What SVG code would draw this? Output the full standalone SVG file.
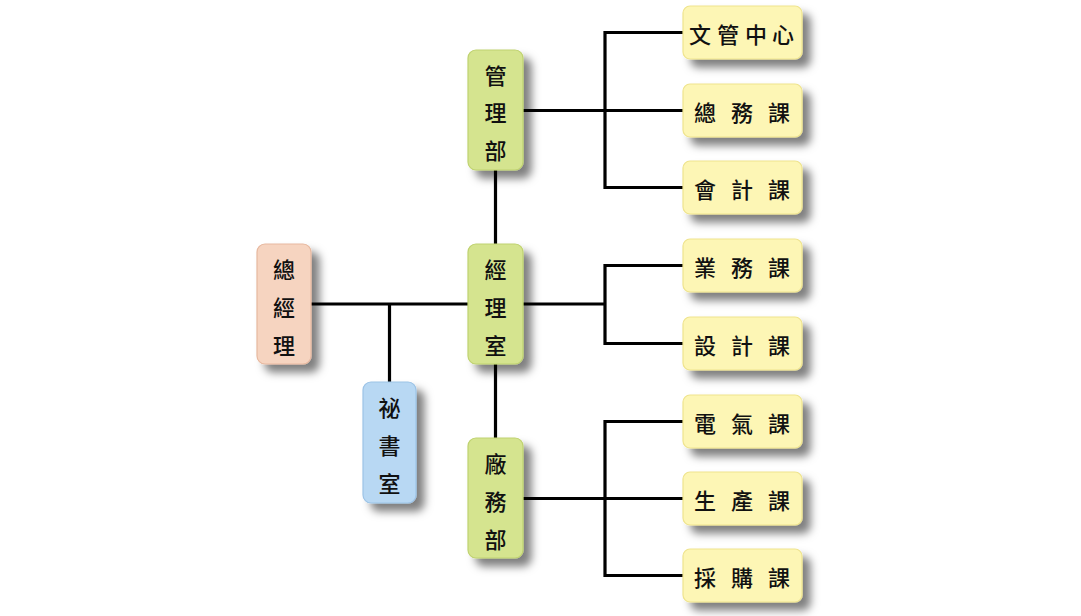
<svg xmlns="http://www.w3.org/2000/svg" width="1081" height="616" viewBox="0 0 1081 616">
<defs>
<filter id="sh" x="-30%" y="-30%" width="170%" height="170%">
<feDropShadow dx="8" dy="8" stdDeviation="4" flood-color="#000" flood-opacity="0.5"/>
</filter>
<style>
.box{filter:url(#sh);stroke-width:1.2}
.peach{fill:#f6d4c0;stroke:#e7b89f}
.green{fill:#d5e48f;stroke:#bfd270}
.blue{fill:#b8d8f3;stroke:#9cc3e6}
.yellow{fill:#fdf6b5;stroke:#efe48e}
text{font-family:"Noto Sans CJK TC","Noto Sans CJK SC",sans-serif;font-size:22px;font-weight:500;fill:#111;text-anchor:middle;dominant-baseline:central}
.conn{stroke:#000;stroke-width:3.2;fill:none}
</style>
</defs>
<rect width="1081" height="616" fill="#fff"/>
<g id="connectors">
<line class="conn" x1="311" y1="304" x2="468" y2="304"/>
<line class="conn" x1="389.5" y1="304" x2="389.5" y2="382"/>
<line class="conn" x1="495.5" y1="170" x2="495.5" y2="244"/>
<line class="conn" x1="495.5" y1="364" x2="495.5" y2="438"/>
<line class="conn" x1="523" y1="110.5" x2="605" y2="110.5"/>
<polyline class="conn" points="683,32.5 605,32.5 605,187.5 683,187.5"/>
<line class="conn" x1="605" y1="110.5" x2="683" y2="110.5"/>
<line class="conn" x1="523" y1="304" x2="605" y2="304"/>
<polyline class="conn" points="683,265.5 605,265.5 605,343.5 683,343.5"/>
<line class="conn" x1="523" y1="498.5" x2="605" y2="498.5"/>
<polyline class="conn" points="683,421.5 605,421.5 605,575.5 683,575.5"/>
<line class="conn" x1="605" y1="498.5" x2="683" y2="498.5"/>
</g>
<g id="n-zongjingli">
<rect class="box peach" x="257" y="244" width="54" height="120" rx="8"/>
<text x="284" y="268">總</text><text x="284" y="306">經</text><text x="284" y="344">理</text>
</g>
<g id="n-mishushi">
<rect class="box blue" x="363" y="382" width="53" height="121" rx="8"/>
<text x="389.5" y="406">祕</text><text x="389.5" y="444">書</text><text x="389.5" y="482">室</text>
</g>
<g id="n-guanlibu">
<rect class="box green" x="468" y="50" width="55" height="120" rx="8"/>
<text x="495.5" y="74">管</text><text x="495.5" y="111">理</text><text x="495.5" y="149">部</text>
</g>
<g id="n-jinglishi">
<rect class="box green" x="468" y="244" width="55" height="120" rx="8"/>
<text x="495.5" y="268">經</text><text x="495.5" y="306">理</text><text x="495.5" y="344">室</text>
</g>
<g id="n-changwubu">
<rect class="box green" x="468" y="438" width="55" height="120" rx="8"/>
<text x="495.5" y="462">廠</text><text x="495.5" y="500">務</text><text x="495.5" y="538">部</text>
</g>
<g id="n-wenguan">
<rect class="box yellow" x="683" y="6" width="119" height="53" rx="7"/>
<text x="700" y="33">文</text><text x="728" y="33">管</text><text x="756" y="33">中</text><text x="783" y="33">心</text>
</g>
<g id="n-zongwu">
<rect class="box yellow" x="683" y="84" width="119" height="53" rx="7"/>
<text x="705" y="111">總</text><text x="742" y="111">務</text><text x="779" y="111">課</text>
</g>
<g id="n-kuaiji">
<rect class="box yellow" x="683" y="161" width="119" height="53" rx="7"/>
<text x="705" y="188">會</text><text x="742" y="188">計</text><text x="779" y="188">課</text>
</g>
<g id="n-yewu">
<rect class="box yellow" x="683" y="239" width="119" height="53" rx="7"/>
<text x="705" y="266">業</text><text x="742" y="266">務</text><text x="779" y="266">課</text>
</g>
<g id="n-sheji">
<rect class="box yellow" x="683" y="317" width="119" height="53" rx="7"/>
<text x="705" y="344">設</text><text x="742" y="344">計</text><text x="779" y="344">課</text>
</g>
<g id="n-dianqi">
<rect class="box yellow" x="683" y="395" width="119" height="53" rx="7"/>
<text x="705" y="422">電</text><text x="742" y="422">氣</text><text x="779" y="422">課</text>
</g>
<g id="n-shengchan">
<rect class="box yellow" x="683" y="472" width="119" height="53" rx="7"/>
<text x="705" y="499">生</text><text x="742" y="499">產</text><text x="779" y="499">課</text>
</g>
<g id="n-caigou">
<rect class="box yellow" x="683" y="549" width="119" height="53" rx="7"/>
<text x="705" y="576">採</text><text x="742" y="576">購</text><text x="779" y="576">課</text>
</g>
</svg>
